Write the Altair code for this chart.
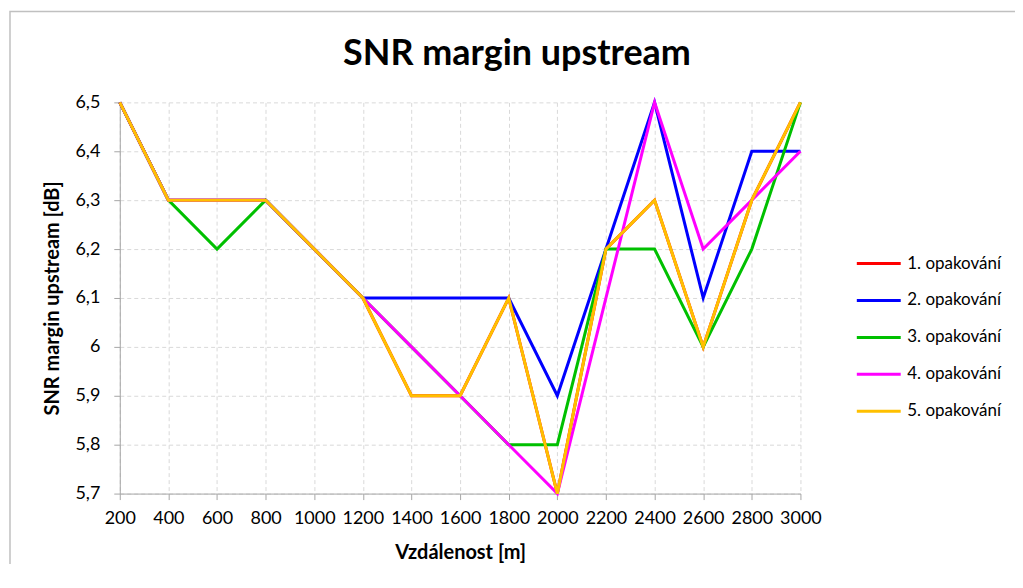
import altair as alt
import pandas as pd

distances = [200, 400, 600, 800, 1000, 1200, 1400, 1600, 1800, 2000, 2200, 2400, 2600, 2800, 3000]
series_names = ["1. opakování", "2. opakování", "3. opakování", "4. opakování", "5. opakování"]
s1 = [6.5, 6.3, 6.3, 6.3, 6.2, 6.1, 5.9, 5.9, 6.1, 5.7, 6.2, 6.3, 6.0, 6.3, 6.5]
s2 = [6.5, 6.3, 6.3, 6.3, 6.2, 6.1, 6.1, 6.1, 6.1, 5.9, 6.2, 6.5, 6.1, 6.4, 6.4]
s3 = [6.5, 6.3, 6.2, 6.3, 6.2, 6.1, 6.0, 5.9, 5.8, 5.8, 6.2, 6.2, 6.0, 6.2, 6.5]
s4 = [6.5, 6.3, 6.3, 6.3, 6.2, 6.1, 6.0, 5.9, 5.8, 5.7, 6.1, 6.5, 6.2, 6.3, 6.4]
s5 = [6.5, 6.3, 6.3, 6.3, 6.2, 6.1, 5.9, 5.9, 6.1, 5.7, 6.2, 6.3, 6.0, 6.3, 6.5]
colors = ["#FF0000", "#0000FF", "#00C000", "#FF00FF", "#FFC000"]
y_ticks = [5.7, 5.8, 5.9, 6.0, 6.1, 6.2, 6.3, 6.4, 6.5]

rows = []
for i, (name, vals) in enumerate(zip(series_names, [s1, s2, s3, s4, s5])):
    for d, v in zip(distances, vals):
        rows.append({"dist": d, "snr": v, "serie": name, "order": i})
df = pd.DataFrame(rows)

FONT = "Lato"
W, H = 682, 392

frame = alt.Chart(pd.DataFrame({"a": [0]})).mark_rect(
    fill="transparent", stroke="#c0c0c0", strokeWidth=1.5, clip=False
).encode(
    x=alt.value(-110), x2=alt.value(W + 240),
    y=alt.value(-91), y2=alt.value(H + 100),
)

axis_common = dict(
    labelFontSize=18, titleFontSize=20, titleFontWeight="bold", tickSize=6,
    gridDash=[4, 3], gridColor="#d9d9d9", domainColor="#a6a6a6", tickColor="#a6a6a6",
    labelColor="#000000", titleColor="#000000", labelOverlap=False, labelFlush=False,
)

lines = alt.Chart(df).mark_line(strokeWidth=3).encode(
    x=alt.X("dist:Q",
            scale=alt.Scale(domain=[200, 3000], nice=False, zero=False),
            axis=alt.Axis(values=distances, title="Vzdálenost [m]", format="d",
                          labelPadding=10, titlePadding=15, **axis_common)),
    y=alt.Y("snr:Q",
            scale=alt.Scale(domain=[5.7, 6.5], nice=False, zero=False),
            axis=alt.Axis(values=y_ticks, title="SNR margin upstream [dB]",
                          labelExpr="replace(format(datum.value, '.1~f'), '.', ',')",
                          labelPadding=14, titlePadding=12, **axis_common)),
    color=alt.Color("serie:N",
                    scale=alt.Scale(domain=series_names, range=colors),
                    legend=alt.Legend(title=None, orient="none", legendX=737, legendY=138,
                                      symbolType="stroke", symbolSize=1936,
                                      symbolStrokeWidth=3, labelFontSize=17,
                                      labelOffset=5, rowPadding=5, padding=0,
                                      labelColor="#000000")),
    order=alt.Order("order:Q"),
    detail="serie:N",
)

chart = alt.layer(frame, lines).properties(
    width=W, height=H,
    title=alt.TitleParams("SNR margin upstream", fontSize=36, font=FONT, fontWeight="bold",
                          anchor="middle", dx=57, offset=-62, color="#000000"),
    autosize=alt.AutoSizeParams(type="none"),
    padding={"left": 112, "top": 94, "right": 215, "bottom": 70},
).configure(font=FONT).configure_view(stroke=None).configure_axis(labelFont=FONT, titleFont=FONT) \
 .configure_legend(labelFont=FONT)

chart.save("out.html", embed_options={"renderer": "svg", "actions": False})
